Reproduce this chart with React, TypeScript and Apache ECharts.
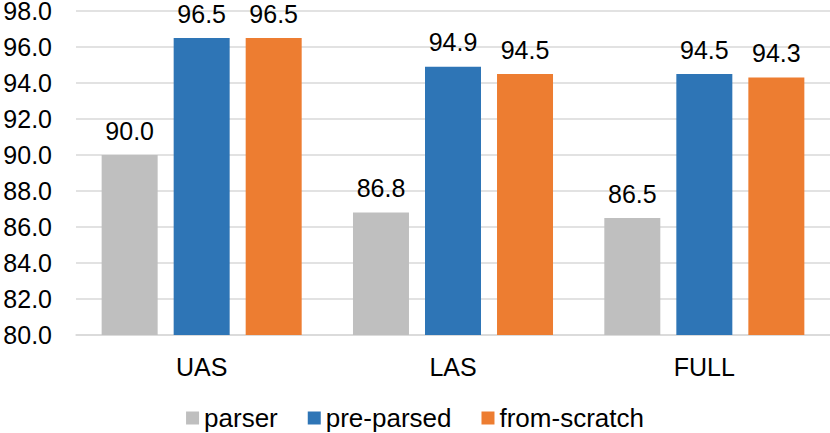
import React, { useEffect, useRef } from "react";
import * as echarts from "echarts";

const categories = ["UAS", "LAS", "FULL"];
const parser = [90.0, 86.8, 86.5];
const preParsed = [96.5, 94.9, 94.5];
const fromScratch = [96.5, 94.5, 94.3];
const seriesNames = ["parser", "pre-parsed", "from-scratch"];
const colors = ["#BFBFBF", "#2E75B6", "#ED7D31"];

const FONT = "'Liberation Sans', Arial, Helvetica, sans-serif";

export default function App() {
  const ref = useRef<HTMLDivElement>(null);
  useEffect(() => {
    if (!ref.current) return;
    const chart = echarts.init(ref.current, undefined, { renderer: "svg" });
    const label = {
      show: true,
      position: "top",
      distance: 12,
      color: "#000",
      fontSize: 25,
      fontFamily: FONT,
      formatter: (p: any) => Number(p.value).toFixed(1),
    };
    const datasets = [parser, preParsed, fromScratch];
    chart.setOption({
      animation: false,
      grid: { left: 76, right: 0, top: 11, bottom: 98, containLabel: false, outerBoundsMode: "none" },
      legend: {
        top: 404,
        left: "center",
        padding: 0,
        itemWidth: 13,
        itemHeight: 13,
        itemGap: 30,
        icon: "rect",
        textStyle: { fontSize: 26, lineHeight: 28, fontFamily: FONT, color: "#000" },
        data: seriesNames,
      },
      xAxis: {
        type: "category",
        data: categories,
        axisLine: { show: true, lineStyle: { color: "#D9D9D9", width: 1.5 } },
        axisTick: { show: false },
        axisLabel: { fontSize: 25, fontFamily: FONT, color: "#000", margin: 19 },
      },
      yAxis: {
        type: "value",
        min: 80,
        max: 98,
        interval: 2,
        axisLine: { show: false },
        axisTick: { show: false },
        splitLine: { lineStyle: { color: "#D9D9D9", width: 1.5 } },
        axisLabel: {
          fontSize: 25,
          lineHeight: 20,
          fontFamily: FONT,
          color: "#000",
          margin: 24,
          formatter: (v: number) => v.toFixed(1),
        },
      },
      series: datasets.map((d, i) => ({
        name: seriesNames[i],
        type: "bar",
        data: d,
        barWidth: 56,
        barGap: "28.6%",
        itemStyle: { color: colors[i] },
        label,
      })),
    });
    return () => chart.dispose();
  }, []);
  return (
    <div
      ref={ref}
      style={{ position: "absolute", left: 0, top: 0, width: 830, height: 433 }}
    />
  );
}
